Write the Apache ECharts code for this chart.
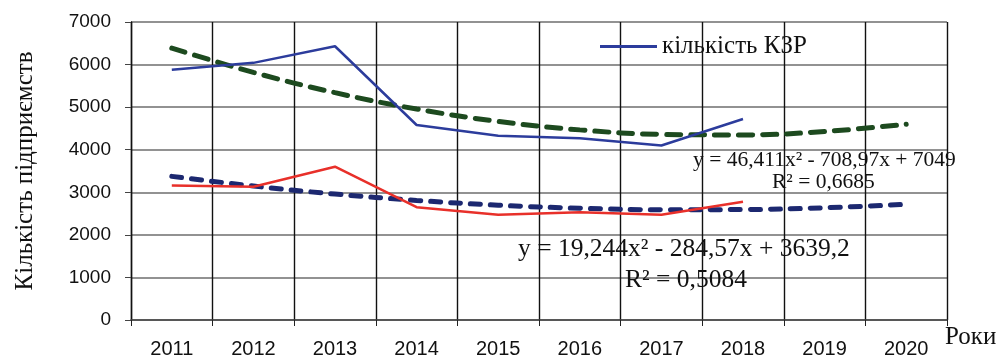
<!DOCTYPE html>
<html>
<head>
<meta charset="utf-8">
<script src="https://cdn.jsdelivr.net/npm/echarts@6/dist/echarts.min.js"></script>
<style>
  html, body { margin: 0; padding: 0; background: #fff; }
  #chart { width: 1003px; height: 359px; }
</style>
</head>
<body>
<div id="chart"></div>
<script>
// Роки
const years = ['2011', '2012', '2013', '2014', '2015', '2016', '2017', '2018', '2019', '2020'];
const yTicks = { min: 0, max: 7000, interval: 1000 };

// кількість КЗР (синя лінія)
const kzrCount = [5880, 6040, 6430, 4580, 4330, 4270, 4100, 4720];
// друга лінія (червона)
const otherCount = [3160, 3130, 3600, 2650, 2470, 2530, 2470, 2780];

// поліноміальні тренди, значення за рівняннями на графіку
const kzrTrend = [6386.4, 5816.7, 5339.8, 4955.7, 4664.4, 4466.0, 4360.3, 4347.5, 4427.6, 4600.4];
const otherTrend = [3373.9, 3147.0, 2958.7, 2808.8, 2697.5, 2624.6, 2590.2, 2594.3, 2636.8, 2717.9];

const serif = '"Liberation Serif", "DejaVu Serif", serif';
const sans = '"Liberation Sans", Arial, sans-serif';

const chart = echarts.init(document.getElementById('chart'), null, { renderer: 'canvas' });

chart.setOption({
  animation: false,
  backgroundColor: '#fff',
  grid: { left: 131, right: 56, top: 22, bottom: 36, containLabel: false },
  legend: {
    data: ['кількість КЗР'],
    left: 595, top: 29,
    icon: 'rect', itemWidth: 57, itemHeight: 3, itemGap: 4,
    textStyle: { fontFamily: serif, fontSize: 25, color: '#111' }
  },
  xAxis: {
    type: 'category',
    data: years,
    boundaryGap: true,
    name: 'Роки',
    nameLocation: 'end',
    nameGap: -2,
    nameTextStyle: { fontFamily: serif, fontSize: 25, color: '#111', align: 'left', verticalAlign: 'top', padding: [5, 0, 0, 0] },
    axisLine: { lineStyle: { color: '#444', width: 1.6 } },
    axisTick: { show: true, length: 6, lineStyle: { color: '#222' } },
    axisLabel: { fontFamily: sans, fontSize: 20, color: '#111', margin: 19 },
    splitLine: { show: true, lineStyle: { color: '#111', width: 1.4 } }
  },
  yAxis: {
    type: 'value',
    min: yTicks.min, max: yTicks.max, interval: yTicks.interval,
    name: 'Кількість підприємств',
    nameLocation: 'middle',
    nameGap: 93,
    nameRotate: 90,
    nameTextStyle: { fontFamily: serif, fontSize: 25, color: '#111' },
    axisLine: { show: true, lineStyle: { color: '#111', width: 1.4 } },
    axisTick: { show: true, length: 6, lineStyle: { color: '#444' } },
    axisLabel: { fontFamily: sans, fontSize: 19, color: '#111', margin: 20, formatter: v => String(v) },
    splitLine: { show: true, lineStyle: { color: '#6e6e6e', width: 1.6 } }
  },
  series: [
    {
      name: 'кількість КЗР-тренд',
      type: 'line', data: kzrTrend, smooth: 0.4, symbol: 'none',
      lineStyle: { color: '#1d4a1f', width: 5, type: [14, 10], cap: 'round' },
      z: 3
    },
    {
      name: 'тренд-2',
      type: 'line', data: otherTrend, smooth: 0.4, symbol: 'none',
      lineStyle: { color: '#1c2870', width: 5, type: [10, 10], cap: 'round' },
      z: 3
    },
    {
      name: 'кількість КЗР',
      type: 'line', data: kzrCount, symbol: 'none',
      itemStyle: { color: '#2c3c9c' },
      lineStyle: { color: '#2c3c9c', width: 2.5 },
      z: 4
    },
    {
      name: 'other',
      type: 'line', data: otherCount, symbol: 'none',
      itemStyle: { color: '#e8302a' },
      lineStyle: { color: '#e8302a', width: 2.5 },
      z: 4
    }
  ],
  graphic: [
    { type: 'text', left: 693, top: 149, z: 10,
      style: { text: 'y = 46,411x² - 708,97x + 7049', font: '21.5px ' + serif, fill: '#111' } },
    { type: 'text', left: 772, top: 171, z: 10,
      style: { text: 'R² = 0,6685', font: '21.5px ' + serif, fill: '#111' } },
    { type: 'text', left: 518, top: 236, z: 10,
      style: { text: 'y = 19,244x² - 284,57x + 3639,2', font: '25.5px ' + serif, fill: '#111' } },
    { type: 'text', left: 625, top: 267, z: 10,
      style: { text: 'R² = 0,5084', font: '25.5px ' + serif, fill: '#111' } }
  ]
});
</script>
</body>
</html>
